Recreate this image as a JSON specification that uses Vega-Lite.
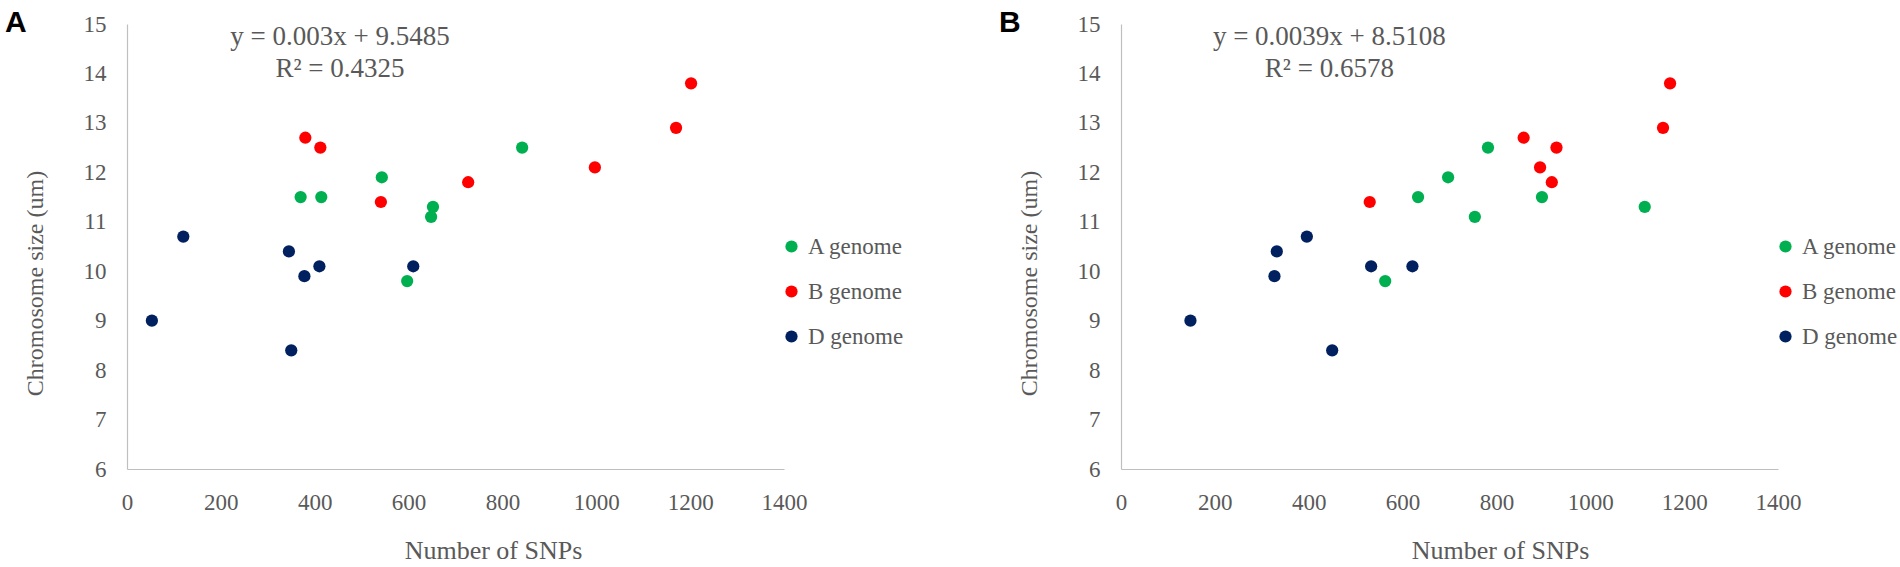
{
  "$schema": "https://vega.github.io/schema/vega-lite/v6.json",
  "background": "white",
  "padding": {"left": 5, "top": 8, "right": 5, "bottom": 0},
  "datasets": {
    "a": [
      {"genome": "A genome", "snps": 370, "size": 11.5},
      {"genome": "A genome", "snps": 414, "size": 11.5},
      {"genome": "A genome", "snps": 543, "size": 11.9},
      {"genome": "A genome", "snps": 652, "size": 11.3},
      {"genome": "A genome", "snps": 648, "size": 11.1},
      {"genome": "A genome", "snps": 597, "size": 9.8},
      {"genome": "A genome", "snps": 842, "size": 12.5},
      {"genome": "B genome", "snps": 380, "size": 12.7},
      {"genome": "B genome", "snps": 412, "size": 12.5},
      {"genome": "B genome", "snps": 541, "size": 11.4},
      {"genome": "B genome", "snps": 727, "size": 11.8},
      {"genome": "B genome", "snps": 997, "size": 12.1},
      {"genome": "B genome", "snps": 1170, "size": 12.9},
      {"genome": "B genome", "snps": 1202, "size": 13.8},
      {"genome": "D genome", "snps": 53, "size": 9.0},
      {"genome": "D genome", "snps": 120, "size": 10.7},
      {"genome": "D genome", "snps": 345, "size": 10.4},
      {"genome": "D genome", "snps": 410, "size": 10.1},
      {"genome": "D genome", "snps": 378, "size": 9.9},
      {"genome": "D genome", "snps": 350, "size": 8.4},
      {"genome": "D genome", "snps": 610, "size": 10.1}
    ],
    "b": [
      {"genome": "A genome", "snps": 782, "size": 12.5},
      {"genome": "A genome", "snps": 697, "size": 11.9},
      {"genome": "A genome", "snps": 633, "size": 11.5},
      {"genome": "A genome", "snps": 754, "size": 11.1},
      {"genome": "A genome", "snps": 897, "size": 11.5},
      {"genome": "A genome", "snps": 563, "size": 9.8},
      {"genome": "A genome", "snps": 1116, "size": 11.3},
      {"genome": "B genome", "snps": 858, "size": 12.7},
      {"genome": "B genome", "snps": 928, "size": 12.5},
      {"genome": "B genome", "snps": 893, "size": 12.1},
      {"genome": "B genome", "snps": 918, "size": 11.8},
      {"genome": "B genome", "snps": 530, "size": 11.4},
      {"genome": "B genome", "snps": 1170, "size": 13.8},
      {"genome": "B genome", "snps": 1155, "size": 12.9},
      {"genome": "D genome", "snps": 148, "size": 9.0},
      {"genome": "D genome", "snps": 396, "size": 10.7},
      {"genome": "D genome", "snps": 332, "size": 10.4},
      {"genome": "D genome", "snps": 327, "size": 9.9},
      {"genome": "D genome", "snps": 533, "size": 10.1},
      {"genome": "D genome", "snps": 621, "size": 10.1},
      {"genome": "D genome", "snps": 450, "size": 8.4}
    ]
  },
  "config": {
    "view": {"stroke": null},
    "axis": {
      "domainColor": "#bfbfbf",
      "domainWidth": 1.2,
      "ticks": false,
      "tickSize": 0,
      "grid": false,
      "labelFont": "Liberation Serif",
      "labelFontSize": 23,
      "labelColor": "#595959",
      "titleFont": "Liberation Serif",
      "titleFontSize": 25,
      "titleFontWeight": "normal",
      "titleColor": "#595959",
      "format": "d"
    },
    "axisX": {"labelPadding": 40, "labelBaseline": "alphabetic", "titleBaseline": "alphabetic", "titleY": 89, "labelFlush": false, "titleFontSize": 26},
    "axisY": {"labelPadding": 21, "titleX": -80, "titleY": 259, "titleFontSize": 24},
    "legend": {
      "labelFont": "Liberation Serif",
      "labelFontSize": 23,
      "labelColor": "#595959",
      "symbolType": "circle",
      "symbolSize": 150,
      "symbolStrokeWidth": 0,
      "symbolOpacity": 1,
      "rowPadding": 21,
      "labelOffset": 5,
      "padding": 0,
      "orient": "none",
      "legendX": 653,
      "legendY": 211,
      "title": null
    },
    "title": {
      "font": "Liberation Sans",
      "fontSize": 30,
      "fontWeight": "bold",
      "color": "#000000",
      "anchor": "start",
      "frame": "bounds",
      "baseline": "alphabetic",
      "offset": -25,
      "dx": -18
    },
    "text": {"font": "Liberation Serif", "fontSize": 27, "color": "#595959", "align": "center", "baseline": "middle"}
  },
  "spacing": 95,
  "resolve": {"scale": {"color": "independent", "x": "independent", "y": "independent"}, "legend": {"color": "independent"}},
  "hconcat": [
    {
      "title": "A",
      "width": 657,
      "height": 445,
      "layer": [
        {
          "data": {"name": "a"},
          "mark": {"type": "circle", "size": 150, "opacity": 1},
          "encoding": {
            "x": {"field": "snps", "type": "quantitative", "scale": {"domain": [0, 1400], "nice": false}, "axis": {"values": [0, 200, 400, 600, 800, 1000, 1200, 1400], "title": "Number of SNPs", "titleX": 366}},
            "y": {"field": "size", "type": "quantitative", "scale": {"domain": [6, 15], "nice": false, "zero": false}, "axis": {"values": [6, 7, 8, 9, 10, 11, 12, 13, 14, 15], "title": "Chromosome size (um)"}},
            "color": {"field": "genome", "type": "nominal", "scale": {"domain": ["A genome", "B genome", "D genome"], "range": ["#00b050", "#ff0000", "#002060"]}, "legend": {"title": null}}
          }
        },
        {
          "data": {"values": [{}]},
          "mark": {"type": "text", "text": "y = 0.003x + 9.5485"},
          "encoding": {"x": {"datum": 454, "type": "quantitative"}, "y": {"datum": 14.74, "type": "quantitative"}}
        },
        {
          "data": {"values": [{}]},
          "mark": {"type": "text", "text": "R² = 0.4325"},
          "encoding": {"x": {"datum": 454, "type": "quantitative"}, "y": {"datum": 14.09, "type": "quantitative"}}
        }
      ]
    },
    {
      "title": "B",
      "width": 657,
      "height": 445,
      "layer": [
        {
          "data": {"name": "b"},
          "mark": {"type": "circle", "size": 150, "opacity": 1},
          "encoding": {
            "x": {"field": "snps", "type": "quantitative", "scale": {"domain": [0, 1400], "nice": false}, "axis": {"values": [0, 200, 400, 600, 800, 1000, 1200, 1400], "title": "Number of SNPs", "titleX": 379}},
            "y": {"field": "size", "type": "quantitative", "scale": {"domain": [6, 15], "nice": false, "zero": false}, "axis": {"values": [6, 7, 8, 9, 10, 11, 12, 13, 14, 15], "title": "Chromosome size (um)"}},
            "color": {"field": "genome", "type": "nominal", "scale": {"domain": ["A genome", "B genome", "D genome"], "range": ["#00b050", "#ff0000", "#002060"]}, "legend": {"title": null}}
          }
        },
        {
          "data": {"values": [{}]},
          "mark": {"type": "text", "text": "y = 0.0039x + 8.5108"},
          "encoding": {"x": {"datum": 444, "type": "quantitative"}, "y": {"datum": 14.74, "type": "quantitative"}}
        },
        {
          "data": {"values": [{}]},
          "mark": {"type": "text", "text": "R² = 0.6578"},
          "encoding": {"x": {"datum": 444, "type": "quantitative"}, "y": {"datum": 14.09, "type": "quantitative"}}
        }
      ]
    }
  ]
}
